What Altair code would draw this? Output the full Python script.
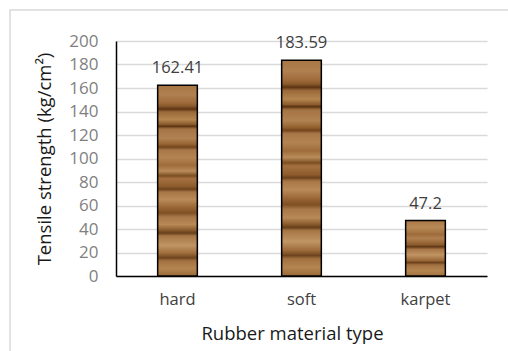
import altair as alt
import pandas as pd

# Tensile strength per rubber material
materials = ["hard", "soft", "karpet"]
strength = [162.41, 183.59, 47.2]
y_ticks = [0, 20, 40, 60, 80, 100, 120, 140, 160, 180, 200]

df = pd.DataFrame({"material": materials, "strength": strength})

FONT = "Open Sans"

# Wood-grain look for the bars, built from vertical gradient stops
grain_tall = [
    (0.00, "#a77644"), (0.05, "#b08050"), (0.09, "#a06c3c"), (0.110, "#8a5a2c"),
    (0.125, "#5c3412"), (0.14, "#9a683a"), (0.18, "#b4864f"), (0.205, "#8c5c2e"),
    (0.215, "#5a3210"), (0.23, "#a57444"), (0.28, "#b08252"), (0.31, "#94622f"),
    (0.325, "#74461e"), (0.34, "#a87848"), (0.38, "#b38452"), (0.42, "#9e6c3a"),
    (0.45, "#b98c5a"), (0.475, "#7c4e22"), (0.49, "#a47040"), (0.53, "#8e5c2c"),
    (0.545, "#6c421c"), (0.56, "#a87646"), (0.60, "#b98b57"), (0.64, "#9a6636"),
    (0.67, "#7e5024"), (0.69, "#a77748"), (0.73, "#b88a56"), (0.76, "#8a5a2c"),
    (0.775, "#66401a"), (0.79, "#a87646"), (0.84, "#c09664"), (0.88, "#a06c3c"),
    (0.905, "#6e441e"), (0.92, "#a27040"), (0.96, "#b4864f"), (1.00, "#9a6838"),
]
grain_short = [
    (0.00, "#a87646"), (0.12, "#b88a56"), (0.25, "#9e6c3a"), (0.32, "#b08050"),
    (0.44, "#8a5a2c"), (0.47, "#5e3614"), (0.52, "#a87646"), (0.62, "#c09462"),
    (0.72, "#9a6838"), (0.76, "#6a401a"), (0.80, "#a27040"), (0.90, "#b4864f"),
    (1.00, "#a27242"),
]


def wood(stops):
    return {
        "gradient": "linear", "x1": 0, "y1": 0, "x2": 0, "y2": 1,
        "stops": [{"offset": o, "color": c} for o, c in stops],
    }


base = alt.Chart(df)

x_enc = alt.X(
    "material:N",
    sort=materials,
    scale=alt.Scale(paddingInner=0.68, paddingOuter=0.336),
    axis=alt.Axis(
        title="Rubber material type",
        labelAngle=0,
        labelColor="#404040",
        labelFontSize=16.5,
        labelPadding=15,
        ticks=False,
        domainColor="black",
        domainWidth=1.5,
        titleFontSize=18.5,
        titleFontWeight="normal",
        titleColor="#1a1a1a",
        titlePadding=17,
        titleX=176,
    ),
)

y_enc = alt.Y(
    "strength:Q",
    scale=alt.Scale(domain=[0, 200], nice=False),
    axis=alt.Axis(
        title="Tensile strength (kg/cm²)",
        values=y_ticks,
        tickCount=11,
        labelOverlap=False,
        labelColor="#7f7f7f",
        labelFontSize=17,
        labelPadding=18,
        ticks=False,
        domainColor="black",
        domainWidth=1.5,
        gridColor="#d9d9d9",
        gridWidth=1.5,
        titleFontSize=18.5,
        titleFontWeight="normal",
        titleColor="#1a1a1a",
        titlePadding=14,
    ),
)

bars = base.mark_bar(stroke="black", strokeWidth=1.5).encode(
    x=x_enc,
    y=y_enc,
    fill=alt.condition(
        alt.datum.material == "karpet",
        alt.value(wood(grain_short)),
        alt.value(wood(grain_tall)),
    ),
)

labels = base.mark_text(
    baseline="alphabetic", dy=-12, fontSize=16.5, color="#404040", font=FONT
).encode(
    x=x_enc,
    y=y_enc,
    text="strength:N",
)

frame = alt.Chart(pd.DataFrame({"k": [0]})).mark_rect(
    fill=None, stroke="#d9d9d9", strokeWidth=1.5
).encode(
    x=alt.value(-106), x2=alt.value(402), y=alt.value(-31), y2=alt.value(320)
)

chart = (
    alt.layer(frame, bars, labels)
    .properties(
        width=371,
        height=235,
        autosize=alt.AutoSizeParams(type="none"),
        padding={"left": 116, "top": 41, "right": 21, "bottom": 75},
        background="white",
    )
    .configure_view(stroke=None)
    .configure_axis(labelFont=FONT, titleFont=FONT)
)

chart.save("out.html", embed_options={"renderer": "svg", "actions": False})
